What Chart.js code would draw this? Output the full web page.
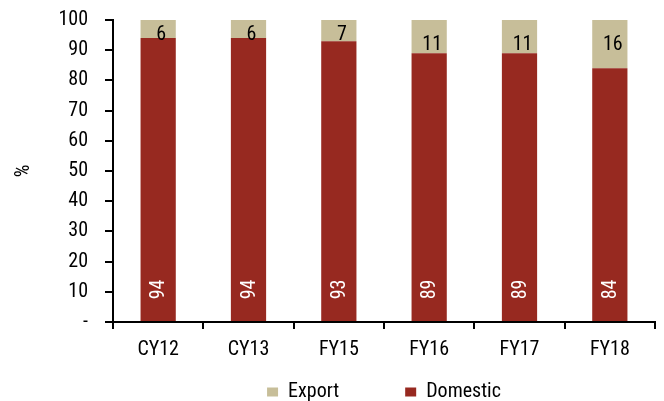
<!DOCTYPE html>
<html><head><meta charset="utf-8">
<script src="https://cdn.jsdelivr.net/npm/chart.js@4/dist/chart.umd.min.js"></script>
<style>html,body{margin:0;padding:0;background:#fff}#wrap{width:664px;height:401px}</style>
</head><body><div id="wrap"><canvas id="c" width="664" height="401"></canvas></div>
<script>
const categories = ['CY12','CY13','FY15','FY16','FY17','FY18'];
const exportShare = [6,6,7,11,11,16];
const domesticShare = [94,94,93,89,89,84];
const yTicks = [0,10,20,30,40,50,60,70,80,90,100];

const FONT = "'Roboto Condensed','Liberation Sans Narrow',sans-serif";
const EXPORT_COLOR = '#C7BE99';
const DOMESTIC_COLOR = '#972920';

const labelPlugin = {
  id: 'barLabels',
  afterDatasetsDraw(chart) {
    const ctx = chart.ctx;
    const yScale = chart.scales.y;
    ctx.save();
    ctx.font = '20px ' + FONT;
    ctx.textAlign = 'center';
    ctx.textBaseline = 'middle';
    // Domestic (dataset 0): white, rotated, near the bottom
    chart.getDatasetMeta(0).data.forEach((bar, i) => {
      ctx.save();
      ctx.translate(bar.x, yScale.getPixelForValue(10.8));
      ctx.rotate(-Math.PI / 2);
      ctx.fillStyle = '#ffffff';
      ctx.fillText(String(domesticShare[i]), 0, 1);
      ctx.restore();
    });
    // Export (dataset 1): black, horizontal, near the top
    chart.getDatasetMeta(1).data.forEach((bar, i) => {
      const top = yScale.getPixelForValue(100);
      let y = yScale.getPixelForValue(100 - exportShare[i] / 2);
      y = Math.max(y, top + (exportShare[i] >= 10 ? 25 : 14.5));
      ctx.fillStyle = '#000000';
      ctx.fillText(String(exportShare[i]), bar.x + 3, y);
    });
    ctx.restore();
  }
};

new Chart(document.getElementById('c'), {
  type: 'bar',
  data: {
    labels: categories,
    datasets: [
      { label: 'Domestic', data: domesticShare, backgroundColor: DOMESTIC_COLOR, borderWidth: 0, stack: 's' },
      { label: 'Export', data: exportShare, backgroundColor: EXPORT_COLOR, borderWidth: 0, stack: 's' }
    ]
  },
  options: {
    responsive: false,
    animation: false,
    devicePixelRatio: 1,
    layout: { padding: { top: 20, right: 9, left: 0, bottom: 0 } },
    datasets: { bar: { categoryPercentage: 1.0, barPercentage: 0.39 } },
    plugins: {
      tooltip: { enabled: false },
      legend: {
        position: 'bottom',
        fullSize: false,
        maxHeight: 27,
        labels: {
          font: { family: FONT, size: 20 },
          color: '#000',
          boxWidth: 11, boxHeight: 9,
          padding: 8,
          generateLabels(chart) {
            const ds = chart.data.datasets;
            const item = (d, i) => ({ text: d.label, fillStyle: d.backgroundColor, strokeStyle: d.backgroundColor, lineWidth: 0, hidden: false, datasetIndex: i });
            const spacer = { text: '', fillStyle: 'rgba(0,0,0,0)', strokeStyle: 'rgba(0,0,0,0)', lineWidth: 0, hidden: false };
            return [item(ds[1], 1), spacer, Object.assign({}, spacer), item(ds[0], 0)];
          }
        }
      }
    },
    scales: {
      x: {
        stacked: true,
        grid: { display: true, drawOnChartArea: false, drawTicks: true, tickLength: 7, color: '#000', offset: true, lineWidth: 2 },
        border: { display: true, color: '#000', width: 2 },
        ticks: { font: { family: FONT, size: 20 }, color: '#000', padding: 9, maxRotation: 0 },
        afterFit(s) { s.height = 52; s.paddingLeft = 0; s.paddingRight = 0; }
      },
      y: {
        stacked: true,
        min: 0, max: 100,
        afterBuildTicks(s) { s.ticks = yTicks.map(v => ({ value: v })); },
        grid: { display: true, drawOnChartArea: false, drawTicks: true, tickLength: 8, color: '#000', lineWidth: 2 },
        border: { display: true, color: '#000', width: 2 },
        ticks: {
          font: { family: FONT, size: 20 }, color: '#000', padding: 17,
          callback: v => v === 0 ? '-' : String(v)
        },
        title: { display: true, text: '%', font: { family: FONT, size: 20 }, color: '#000', padding: { top: 12, bottom: 0 } },
        afterFit(s) { s.width = 113; s.paddingTop = 0; s.paddingBottom = 0; }
      }
    }
  },
  plugins: [labelPlugin]
});
</script></body></html>
